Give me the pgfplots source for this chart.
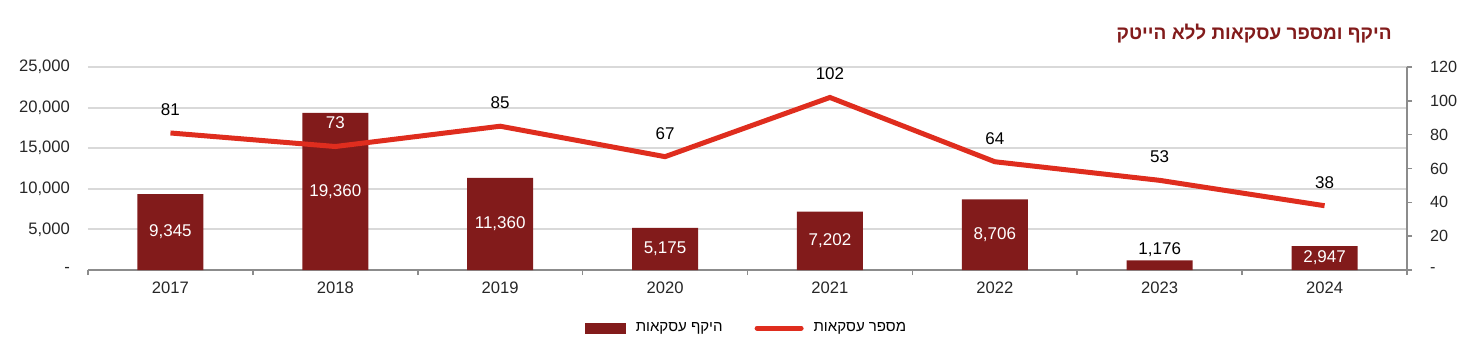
\documentclass[border=0pt]{standalone}
\usepackage{pgfplots}
\pgfplotsset{compat=1.18}
\usepackage{fontspec}
\setmainfont{Liberation Sans}
\newfontfamily\hebfont[Script=Hebrew]{Liberation Sans}
\TeXXeTstate=1
\definecolor{barred}{RGB}{130,27,27}
\definecolor{linered}{RGB}{223,45,30}
\definecolor{gridgray}{RGB}{217,217,217}
\definecolor{axgray}{RGB}{140,140,140}
\begin{document}
\begin{tikzpicture}
\path[use as bounding box] (0,0) rectangle (736pt,177.5pt);
\begin{axis}[
  at={(44pt,42.5pt)}, anchor=south west, scale only axis,
  width=659.5pt, height=101.5pt,
  xmin=-0.5, xmax=7.5, ymin=0, ymax=25000,
  scaled y ticks=false,
  axis x line*=bottom, axis y line*=left,
  y axis line style={draw=none},
  x axis line style={draw=axgray, line width=0.8pt},
  xtick={-0.5,0.5,...,7.5},
  x tick label as interval,
  xticklabels={2017,2018,2019,2020,2021,2022,2023,2024},
  xtick style={draw=axgray, line width=0.8pt},
  tick align=outside,
  major tick length=2.5pt,
  ytick={0,5000,10000,15000,20000,25000},
  yticklabels={-,{5,000},{10,000},{15,000},{20,000},{25,000}},
  ytick style={draw=none},
  ymajorgrids, grid style={draw=gridgray, line width=1pt},
  tick label style={font=\fontsize{8.3}{10}\selectfont, text=black!85},
  yticklabel style={xshift=-3pt},
  /pgf/number format/assume math mode=true,
  clip=false,
]
\addplot[ybar, bar width=33pt, fill=barred, draw=none] coordinates {
 (0,9345) (1,19360) (2,11360) (3,5175) (4,7202) (5,8706) (6,1176) (7,2947)};
\addplot[draw=none, mark=none, forget plot, nodes near coords, point meta=explicit symbolic,
  nodes near coords style={text=white, anchor=center, font=\fontsize{8.5}{10}\selectfont}]
  table[meta=lab] {
x y lab
0 4672.5 9,345
1 9680 19,360
2 5680 11,360
3 2587.5 5,175
4 3601 7,202
5 4353 8,706
7 1473.5 2,947
};
\addplot[draw=none, mark=none, forget plot, nodes near coords, point meta=explicit symbolic,
  nodes near coords style={text=black, anchor=south, inner sep=1pt, yshift=0.5pt, font=\fontsize{8.5}{10}\selectfont}]
  table[meta=lab] {
x y lab
6 1176 1,176
};
\end{axis}
\begin{axis}[
  at={(44pt,42.5pt)}, anchor=south west, scale only axis,
  width=659.5pt, height=101.5pt,
  xmin=-0.5, xmax=7.5, ymin=0, ymax=120,
  axis x line=none, axis y line*=right,
  y axis line style={draw=axgray, line width=0.8pt},
  ytick={0,20,...,120},
  yticklabels={-,20,40,60,80,100,120},
  ytick style={draw=axgray, line width=0.8pt},
  tick align=outside, major tick length=2.5pt,
  tick label style={font=\fontsize{8.1}{10}\selectfont, text=black!85},
  yticklabel style={xshift=5.5pt},
  /pgf/number format/assume math mode=true,
  clip=false,
  legend columns=2,
  legend style={at={(axis description cs:0.5,-0.286)}, anchor=center, draw=none, fill=none,
    font=\fontsize{7.5}{9}\selectfont, inner sep=0pt,
    /tikz/every even column/.append style={column sep=14pt},
    /tikz/every odd column/.append style={column sep=3pt}},
  legend cell align=left,
]
\addlegendimage{legend image code/.code={\fill[barred] (0pt,-2.5pt) rectangle (20pt,2.5pt);}}
\addlegendentry{\hebfont\beginR היקף עסקאות\endR}
\addplot[linered, line width=2.5pt, mark=none,
  legend image code/.code={\draw[linered, line width=2.5pt, line cap=round] (0pt,0pt) -- (22pt,0pt);}]
  coordinates {(0,81) (1,73) (2,85) (3,67) (4,102) (5,64) (6,53) (7,38)};
\addlegendentry{\hebfont\beginR מספר עסקאות\endR}
\addplot[draw=none, mark=none, forget plot, nodes near coords,
  nodes near coords style={text=black, anchor=center, yshift=11.75pt, font=\fontsize{8.5}{10}\selectfont}]
  coordinates {(0,81) (2,85) (3,67) (4,102) (5,64) (6,53) (7,38)};
\addplot[draw=none, mark=none, forget plot, nodes near coords,
  nodes near coords style={text=white, anchor=center, yshift=11.75pt, font=\fontsize{8.5}{10}\selectfont}]
  coordinates {(1,73)};
\end{axis}
\node[anchor=east, inner sep=0pt, text=barred, font=\hebfont\bfseries\fontsize{9.5}{11}\selectfont] at (696pt,160.5pt) {\beginR היקף ומספר עסקאות ללא הייטק\endR};
\end{tikzpicture}
\end{document}
